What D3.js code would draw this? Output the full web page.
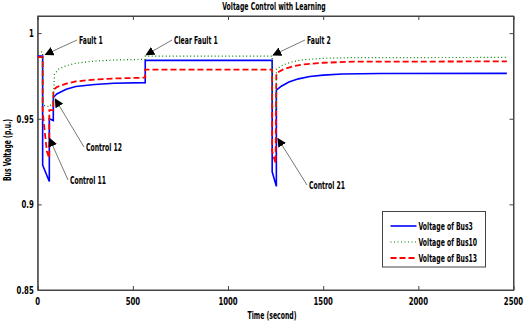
<!DOCTYPE html>
<html>
<head>
<meta charset="utf-8">
<script src="https://cdn.jsdelivr.net/npm/d3@7"></script>
<style>
  body { margin: 0; background: #fff; }
  text { font-family: "DejaVu Sans Condensed", "DejaVu Sans", sans-serif; font-weight: bold; fill: #000; }
</style>
</head>
<body>
<svg id="chart" width="526" height="323"></svg>
<script>
// time (s), voltage (p.u.)
let bus3 = [
  [0, 0.9866], [26, 0.9866], [26, 0.923], [61, 0.9134], [61, 0.950], [82, 0.949], [82, 0.9624],
  [100, 0.9645], [150, 0.9672], [200, 0.9688], [300, 0.9700], [400, 0.9707], [565, 0.9711],
  [565, 0.9841], [1232, 0.9841], [1232, 0.919], [1254, 0.9105], [1254, 0.9667],
  [1280, 0.9690], [1320, 0.9714], [1370, 0.9733], [1430, 0.9747], [1500, 0.9755],
  [1600, 0.9761], [1800, 0.9764], [2465, 0.9765]
];
let bus10 = [
  [0, 0.9890], [26, 0.9890], [26, 0.958], [61, 0.957], [82, 0.960], [88, 0.9760],
  [110, 0.9790], [150, 0.9810], [200, 0.9824], [300, 0.9837], [400, 0.9843], [565, 0.9847],
  [565, 0.9866], [1232, 0.9866], [1232, 0.957], [1254, 0.955], [1254, 0.9790],
  [1290, 0.9815], [1340, 0.9833], [1400, 0.9845], [1500, 0.9853], [1650, 0.9857], [2465, 0.9858]
];
let bus13 = [
  [0, 0.9860], [26, 0.9860], [26, 0.954], [48, 0.931], [61, 0.927], [61, 0.955], [82, 0.955], [82, 0.9667],
  [100, 0.9685], [150, 0.9705], [200, 0.9718], [300, 0.9729], [400, 0.9735], [565, 0.9740],
  [565, 0.9787], [1232, 0.9787], [1232, 0.931], [1250, 0.924], [1254, 0.9766],
  [1290, 0.9788], [1340, 0.9806], [1400, 0.9818], [1500, 0.9827], [1650, 0.9833], [2465, 0.9835]
];

let xTicks = [0, 500, 1000, 1500, 2000, 2500];
let yTicks = [0.85, 0.9, 0.95, 1];

let seriesNames = ['Voltage of Bus3', 'Voltage of Bus10', 'Voltage of Bus13'];
let seriesData = [bus3, bus10, bus13];
let seriesColors = ['#0000ff', '#008000', '#ff0000'];
let seriesDash = ['none', '1,2.5', '6,3'];
let seriesWidth = [1.6, 1.2, 1.8];

// annotation: label, text position, arrow tip (data units)
let notes = [
  { label: 'Fault 1', tx: 79, ty: 44, tip: [40, 0.9875] },
  { label: 'Clear Fault 1', tx: 174, ty: 44, tip: [570, 0.9873] },
  { label: 'Fault 2', tx: 307, ty: 44, tip: [1237, 0.9872] },
  { label: 'Control 12', tx: 86, ty: 151, tip: [92, 0.9615] },
  { label: 'Control 11', tx: 70, ty: 184, tip: [62, 0.9385] },
  { label: 'Control 21', tx: 309, ty: 189, tip: [1262, 0.9385] }
];

let margin = { left: 37.7, top: 16, right: 12.5, bottom: 33 },
    width = 526 - margin.left - margin.right,
    height = 323 - margin.top - margin.bottom;

let squeeze = 0.62;

// condensed bold text, like the original figure's font
let addText = function (parent, tx, ty, str, anchor, sx, rot) {
  return parent.append('text')
    .attr('transform', 'translate(' + tx + ',' + ty + ')' + (rot ? ' rotate(' + rot + ')' : '') + ' scale(' + sx + ',1)')
    .attr('text-anchor', anchor || 'start')
    .style('font-size', '11px')
    .text(str);
};

let svg = d3.select('#chart');
let g = svg.append('g')
  .attr('transform', 'translate(' + margin.left + ',' + margin.top + ')');

let x = d3.scaleLinear().domain([0, 2500]).range([0, width]);
let y = d3.scaleLinear().domain([0.85, 1.01]).range([height, 0]);

// axes box with inward ticks on all sides
g.append('g')
  .attr('transform', 'translate(0,' + height + ')')
  .call(d3.axisBottom(x).tickValues(xTicks).tickSizeInner(-4).tickSizeOuter(0).tickFormat(''));
g.append('g')
  .call(d3.axisTop(x).tickValues(xTicks).tickSizeInner(-4).tickSizeOuter(0).tickFormat(''));
g.append('g')
  .call(d3.axisLeft(y).tickValues(yTicks).tickSizeInner(-4).tickSizeOuter(0).tickFormat(''));
g.append('g')
  .attr('transform', 'translate(' + width + ',0)')
  .call(d3.axisRight(y).tickValues(yTicks).tickSizeInner(-4).tickSizeOuter(0).tickFormat(''));

g.selectAll('.domain').attr('stroke', '#444');
g.selectAll('.tick line').attr('stroke', '#444');

xTicks.forEach(function (d) {
  addText(g, x(d), height + 14.5, d3.format('d')(d), 'middle', 0.7);
});
yTicks.forEach(function (d) {
  addText(g, -4, y(d) + 4, d === 1 ? '1' : String(d), 'end', 0.7);
});

g.append('rect')
  .attr('width', width).attr('height', height)
  .attr('fill', 'none').attr('stroke', '#444').attr('stroke-width', 1);

// series
let line = d3.line()
  .x(function (d) { return x(d[0]); })
  .y(function (d) { return y(d[1]); });

let order = [0, 2, 1];
order.forEach(function (i) {
  g.append('path')
    .datum(seriesData[i])
    .attr('fill', 'none')
    .attr('stroke', seriesColors[i])
    .attr('stroke-width', seriesWidth[i])
    .attr('stroke-dasharray', seriesDash[i])
    .attr('d', line);
});

// arrows
svg.append('defs').append('marker')
  .attr('id', 'head')
  .attr('viewBox', '0 0 10 10')
  .attr('refX', 9).attr('refY', 5)
  .attr('markerWidth', 9).attr('markerHeight', 9)
  .attr('markerUnits', 'userSpaceOnUse')
  .attr('orient', 'auto')
  .append('path')
  .attr('d', 'M0,0 L10,5 L0,10 z')
  .attr('fill', '#000');

notes.forEach(function (n) {
  let tipX = margin.left + x(n.tip[0]),
      tipY = margin.top + y(n.tip[1]);
  svg.append('line')
    .attr('x1', n.tx - 2).attr('y1', n.ty - 4)
    .attr('x2', tipX).attr('y2', tipY)
    .attr('stroke', '#555').attr('stroke-width', 0.8)
    .attr('marker-end', 'url(#head)');
  addText(svg, n.tx, n.ty, n.label, 'start', squeeze);
});

// title and axis labels
addText(svg, 274, 10, 'Voltage Control with Learning', 'middle', squeeze);
addText(svg, 272, 319, 'Time (second)', 'middle', squeeze);
addText(svg, 11, 150, 'Bus Voltage (p.u.)', 'middle', squeeze, -90);

// legend
let legend = svg.append('g').attr('transform', 'translate(382.5,211.5)');
legend.append('rect')
  .attr('width', 103).attr('height', 55.5)
  .attr('fill', '#fff').attr('stroke', '#444').attr('stroke-width', 1);

seriesNames.forEach(function (name, i) {
  let ly = 14.5 + i * 16;
  legend.append('line')
    .attr('x1', 8).attr('x2', 34)
    .attr('y1', ly).attr('y2', ly)
    .attr('stroke', seriesColors[i])
    .attr('stroke-width', seriesWidth[i])
    .attr('stroke-dasharray', seriesDash[i]);
  addText(legend, 36, ly + 4, name, 'start', squeeze);
});
</script>
</body>
</html>
